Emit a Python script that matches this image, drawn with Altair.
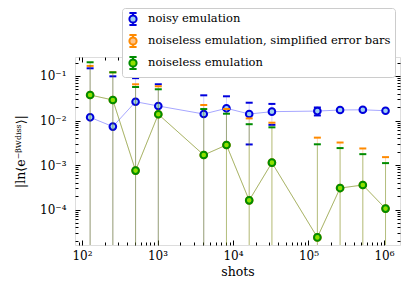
import altair as alt
import pandas as pd

# ---- data ----
shots = [128, 256, 512, 1024, 4096, 8192, 16384, 32768, 131072, 262144, 524288, 1048576]
noisy_val = [0.0118, 0.0073, 0.0264, 0.0212, 0.0140, 0.0188, 0.0140, 0.0158, 0.0163, 0.0172, 0.0174, 0.0166]
noisy_err = [0.137, 0.091, 0.063, 0.044, 0.0228, 0.0162, 0.0111, 0.0078, 0.0033, 0.0010, 0.0010, 0.0010]
noiseless_val = [0.0374, 0.0289, 0.00075, 0.0138, 0.00168, 0.00282, 0.000161, 0.00113,
                 0.0000237, 0.000304, 0.000356, 0.000105]
noiseless_err = [0.166, 0.092, 0.0559, 0.0365, 0.0164, 0.0114, 0.0081, 0.0059, 0.0029, 0.0021, 0.0014, 0.0010]
simplified_err = [0.131, 0.092, 0.0643, 0.045, 0.0206, 0.0153, 0.0110, 0.0078, 0.0041, 0.0029, 0.0020, 0.0014]

series_names = ["noisy emulation", "noiseless emulation, simplified error bars", "noiseless emulation"]
edge_colors = ["#0000dd", "#ff8a00", "#008c00"]
fill_colors = ["#9fd0f0", "#ffc487", "#8ee000"]
line_colors = ["#0000ff", "#ff8000", "#008000"]
rule_opacity = [0.18, 0.3, 0.3]

x_major = [1e2, 1e3, 1e4, 1e5, 1e6]
x_minor = [90] + [m * 10 ** k for k in range(2, 6) for m in range(2, 10)]
y_major = [1e-4, 1e-3, 1e-2, 1e-1]
y_minor = [m * 10.0 ** k for k in range(-5, 0) for m in range(2, 10) if 1.6e-5 <= m * 10.0 ** k <= 0.267]

rows = []
for name, vals, errs in [(series_names[0], noisy_val, noisy_err),
                         (series_names[1], noiseless_val, simplified_err),
                         (series_names[2], noiseless_val, noiseless_err)]:
    for s, v, e in zip(shots, vals, errs):
        lo = v - e
        rows.append({"series": name, "shots": s, "val": v,
                     "lo": lo if lo > 0 else 1e-9, "hi": v + e})
df = pd.DataFrame(rows)

FONT = "DejaVu Serif"
x_scale = alt.Scale(type="log", domain=[80.7, 1.63e6], nice=False)
y_scale = alt.Scale(type="log", domain=[1.6e-5, 0.267], nice=False)

x_lab = "['10²','10³','10⁴','10⁵','10⁶'][round(log(datum.value)/LN10)-2]"
y_lab = "['10⁻⁴','10⁻³','10⁻²','10⁻¹'][round(log(datum.value)/LN10)+4]"


def axis(orient, kind):
    horiz = orient in ("top", "bottom")
    if kind == "labels":
        return alt.Axis(orient=orient, values=x_major if horiz else y_major,
                        labelExpr=x_lab if horiz else y_lab, ticks=False, domain=False, grid=False,
                        labelFont=FONT, labelFontSize=12, labelColor="black",
                        labelPadding=5 if horiz else 9,
                        title="shots" if horiz else "|ln⟨e⁻ᵝᵂᵈⁱˢˢ⟩|",
                        titleFont=FONT, titleFontSize=12.5, titleFontWeight="normal", titleColor="black",
                        titlePadding=4 if horiz else 12)
    size = 5 if kind == "major" else 3
    vals = (x_major if kind == "major" else x_minor) if horiz else (y_major if kind == "major" else y_minor)
    return alt.Axis(orient=orient, values=vals, labels=False, domain=False, grid=False,
                    ticks=True, tickSize=size, offset=-size, tickColor="black", tickWidth=1, title=None)


axes_plan = [
    (axis("bottom", "labels"), axis("left", "labels")),
    (axis("bottom", "major"), axis("left", "major")),
    (axis("bottom", "minor"), axis("left", "minor")),
    (axis("top", "major"), axis("right", "major")),
    (axis("top", "minor"), axis("right", "minor")),
]

legend_path = ("M-0.6,0A0.6,0.6,0,1,1,0.6,0A0.6,0.6,0,1,1,-0.6,0Z"
               "M0,-0.6L0,-1M-0.6,-1L0.6,-1M0,0.6L0,1M-0.6,1L0.6,1")
leg = alt.Legend(orient="none", legendX=47, legendY=-49, title=None,
                 symbolType=legend_path, symbolSize=144, symbolStrokeWidth=2,
                 labelFont=FONT, labelFontSize=11.5, labelColor="black", labelOffset=8,
                 labelLimit=400, rowPadding=2, padding=4, fillColor="white", strokeColor="#cccccc",
                 cornerRadius=3)
fill_scale = alt.Scale(domain=series_names, range=fill_colors)
stroke_scale = alt.Scale(domain=series_names, range=edge_colors)

layers = []
counter = [0]


def next_axes():
    i = counter[0]
    counter[0] += 1
    if i < len(axes_plan):
        return axes_plan[i]
    return (None, None)


for i, name in enumerate(series_names):
    base = alt.Chart(df).transform_filter(alt.datum.series == name)
    xa, ya = next_axes()
    layers.append(base.mark_rule(color=line_colors[i], opacity=rule_opacity[i], strokeWidth=1, clip=True).encode(
        x=alt.X("shots:Q", scale=x_scale, axis=xa),
        y=alt.Y("lo:Q", scale=y_scale, axis=ya), y2="hi:Q"))
    xa, ya = next_axes()
    layers.append(base.mark_line(color=line_colors[i], opacity=0.35, strokeWidth=1, clip=True).encode(
        x=alt.X("shots:Q", scale=x_scale, axis=xa),
        y=alt.Y("val:Q", scale=y_scale, axis=ya)))
    for fld in ["hi", "lo"]:
        xa, ya = next_axes()
        layers.append(base.mark_tick(orient="horizontal", color=edge_colors[i], size=7, thickness=2,
                                     opacity=1, clip=True).encode(
            x=alt.X("shots:Q", scale=x_scale, axis=xa),
            y=alt.Y(f"{fld}:Q", scale=y_scale, axis=ya)))
    xa, ya = next_axes()
    layers.append(base.mark_point(filled=True, size=44, strokeWidth=2, opacity=1, clip=True).encode(
        x=alt.X("shots:Q", scale=x_scale, axis=xa),
        y=alt.Y("val:Q", scale=y_scale, axis=ya),
        fill=alt.Fill("series:N", scale=fill_scale, legend=leg),
        stroke=alt.Stroke("series:N", scale=stroke_scale, legend=leg)))

chart = alt.layer(*layers).resolve_axis(x="independent", y="independent").properties(
    width=325, height=188,
    autosize=alt.AutoSizeParams(type="none"),
    padding={"left": 67, "top": 49, "right": 7, "bottom": 45},
).configure_view(stroke="black", strokeWidth=1).configure(font=FONT)

chart.save("out.html", embed_options={"renderer": "svg", "actions": False})
